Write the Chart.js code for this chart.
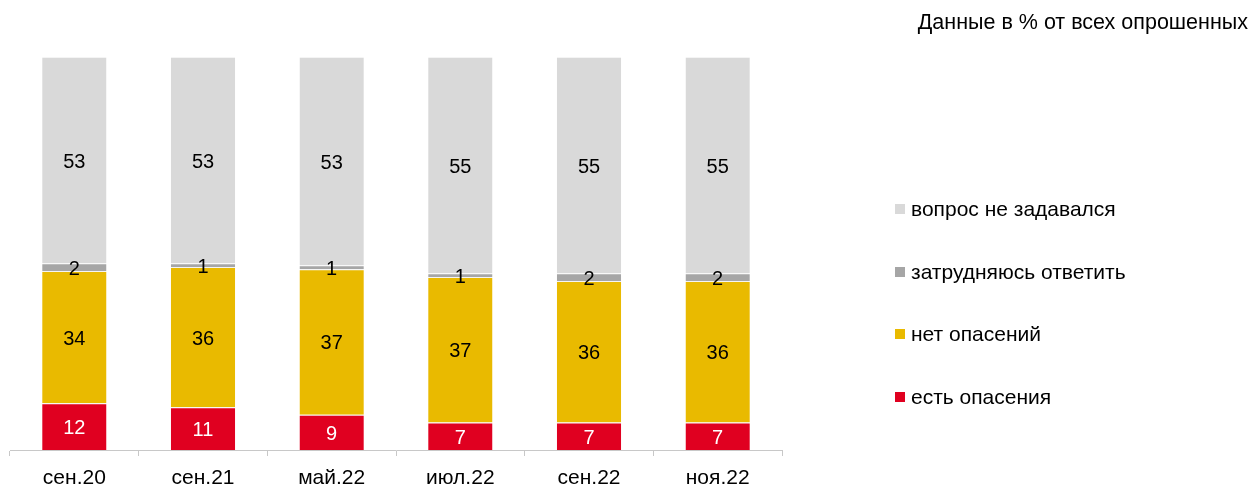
<!DOCTYPE html>
<html>
<head>
<meta charset="utf-8">
<script src="https://cdn.jsdelivr.net/npm/chart.js@4.4.0/dist/chart.umd.min.js"></script>
<style>
html,body{margin:0;padding:0;background:#fff;}
#wrap{position:relative;width:1251px;height:487px;}
</style>
</head>
<body>
<div id="wrap"><canvas id="c" width="1251" height="487"></canvas></div>
<script>
const categories = ['сен.20','сен.21','май.22','июл.22','сен.22','ноя.22'];
const seriesNames = ['есть опасения','нет опасений','затрудняюсь ответить','вопрос не задавался'];
const concerns   = [12, 11, 9, 7, 7, 7];
const noConcerns = [34, 36, 37, 37, 36, 36];
const hardToSay  = [2, 1, 1, 1, 2, 2];
const notAsked   = [53, 53, 53, 55, 55, 55];
const titleText = 'Данные в % от всех опрошенных';

const colors = ['#E00020', '#E9BA00', '#A6A6A6', '#D9D9D9'];
const labelColors = ['#FFFFFF', '#000000', '#000000', '#000000'];
const raw = [concerns, noConcerns, hardToSay, notAsked];
const totals = categories.map((_, i) => raw.reduce((s, a) => s + a[i], 0));

const datasets = raw.map((arr, k) => ({
  label: seriesNames[k],
  data: arr.map((v, i) => v / totals[i] * 100),
  rawValues: arr,
  backgroundColor: colors[k],
  borderColor: '#F4F4F4',
  borderWidth: {top: 1, bottom: 0, left: 0, right: 0},
  borderSkipped: false,
  barPercentage: 0.5,
  categoryPercentage: 1.0
}));

const FONT = 'Arial, "Liberation Sans", sans-serif';

const labelsPlugin = {
  id: 'segLabels',
  afterDatasetsDraw(chart) {
    const ctx = chart.ctx;
    ctx.save();
    ctx.font = '20px ' + FONT;
    ctx.textAlign = 'center';
    ctx.textBaseline = 'middle';
    chart.data.datasets.forEach((ds, k) => {
      const meta = chart.getDatasetMeta(k);
      meta.data.forEach((el, i) => {
        const p = el.getProps(['x', 'y', 'base'], true);
        ctx.fillStyle = labelColors[k];
        ctx.fillText(String(ds.rawValues[i]), p.x, (p.y + p.base) / 2 + 2);
      });
    });
    ctx.restore();
  }
};

const legendPlugin = {
  id: 'sideLegend',
  afterDraw(chart) {
    const ctx = chart.ctx;
    ctx.save();
    ctx.font = '21px ' + FONT;
    ctx.textBaseline = 'middle';
    ctx.textAlign = 'left';
    const rows = [3, 2, 1, 0];
    const ys = [209, 272, 334, 397];
    rows.forEach((k, r) => {
      ctx.fillStyle = colors[k];
      ctx.fillRect(895, ys[r] - 5, 10, 10);
      ctx.fillStyle = '#000000';
      ctx.fillText(seriesNames[k], 911, ys[r] + 1);
    });
    ctx.font = '21.5px ' + FONT;
    ctx.textAlign = 'right';
    ctx.fillText(titleText, 1248, 23);
    ctx.restore();
  }
};

new Chart(document.getElementById('c'), {
  type: 'bar',
  data: { labels: categories, datasets },
  options: {
    responsive: false,
    animation: false,
    layout: { padding: { left: 10, right: 469, top: 57, bottom: -14 } },
    plugins: { legend: { display: false }, tooltip: { enabled: false } },
    scales: {
      x: {
        stacked: true,
        grid: { display: true, drawOnChartArea: false, drawTicks: true, tickLength: 6, color: '#C8C8C8', offset: true },
        border: { display: true, color: '#C8C8C8', width: 1 },
        ticks: { color: '#000000', font: { family: FONT, size: 21, lineHeight: 1 }, padding: 12, maxRotation: 0 }
      },
      y: {
        stacked: true, display: false, min: 0, max: 100
      }
    }
  },
  plugins: [labelsPlugin, legendPlugin]
});
</script>
</body>
</html>
